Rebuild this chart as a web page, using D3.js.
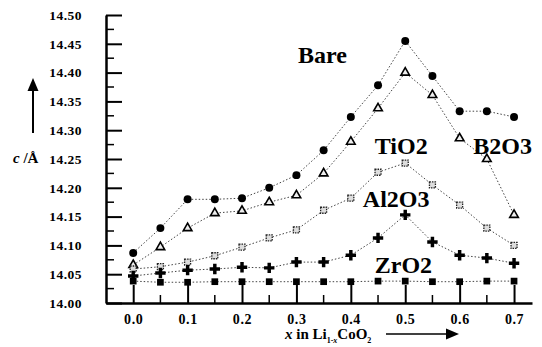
<!DOCTYPE html>
<html>
<head>
<meta charset="utf-8">
<script src="https://cdn.jsdelivr.net/npm/d3@7/dist/d3.min.js"></script>
<style>
  body { margin: 0; background: #fff; }
</style>
</head>
<body>
<svg id="chart" width="542" height="347"></svg>
<script>
// x in Li(1-x)CoO2
var xs = [0, 0.05, 0.1, 0.15, 0.2, 0.25, 0.3, 0.35, 0.4, 0.45, 0.5, 0.55, 0.6, 0.65, 0.7];

// c lattice parameter (Å)
var bare  = [14.087, 14.130, 14.180, 14.180, 14.182, 14.200, 14.222, 14.265, 14.323, 14.378, 14.455, 14.394, 14.333, 14.333, 14.323];
var b2o3  = [14.066, 14.097, 14.130, 14.156, 14.160, 14.175, 14.187, 14.225, 14.280, 14.338, 14.400, 14.361, 14.286, 14.250, 14.153];
var tio2  = [14.059, 14.063, 14.071, 14.082, 14.097, 14.113, 14.127, 14.161, 14.182, 14.227, 14.243, 14.205, 14.170, 14.130, 14.100];
var al2o3 = [14.047, 14.052, 14.057, 14.059, 14.062, 14.061, 14.071, 14.071, 14.083, 14.113, 14.153, 14.106, 14.083, 14.078, 14.069];
var zro2  = [14.038, 14.036, 14.036, 14.037, 14.037, 14.037, 14.037, 14.037, 14.037, 14.038, 14.038, 14.037, 14.037, 14.038, 14.038];

var yTicks = [14.00, 14.05, 14.10, 14.15, 14.20, 14.25, 14.30, 14.35, 14.40, 14.45, 14.50];
var xTicks = [0, 0.1, 0.2, 0.3, 0.4, 0.5, 0.6, 0.7];

var series = [
  {name: "Bare",  vals: bare,  sym: "circle"},
  {name: "B2O3",  vals: b2o3,  sym: "triangle"},
  {name: "TiO2",  vals: tio2,  sym: "square-open"},
  {name: "Al2O3", vals: al2o3, sym: "cross"},
  {name: "ZrO2",  vals: zro2,  sym: "square"}
];

// labels sit beside the curves
var labels = [
  {t: "Bare",  x: 0.303, y: 14.417},
  {t: "TiO2",  x: 0.444, y: 14.259},
  {t: "B2O3",  x: 0.625, y: 14.259},
  {t: "Al2O3", x: 0.422, y: 14.167},
  {t: "ZrO2",  x: 0.444, y: 14.052}
];

var FONT = "'Liberation Serif', 'Times New Roman', Times, 'DejaVu Serif', serif";

var svg = d3.select("#chart");
var x = d3.scaleLinear().domain([-0.05, 0.733]).range([106, 532]);
var y = d3.scaleLinear().domain([14.0, 14.5]).range([303, 15]);

// x axis
var gx = svg.append("g").attr("transform", "translate(0,303)");
gx.call(d3.axisBottom(x).tickValues(xTicks).tickSize(-18).tickSizeOuter(0)
  .tickPadding(11).tickFormat(d3.format(".1f")));
gx.selectAll(".tick line").attr("stroke-width", 2);
gx.selectAll("text").attr("fill", "#000")
  .style("font-family", FONT).style("font-weight", "bold").style("font-size", "14px")
  .style("letter-spacing", "0.6px");
gx.select(".domain").attr("stroke-width", 2.5);
gx.selectAll(".minor").data(d3.range(0.05, 0.75, 0.1)).enter().append("line")
  .attr("x1", function(d){ return x(d); }).attr("x2", function(d){ return x(d); })
  .attr("y1", 0).attr("y2", -8).attr("stroke", "#000").attr("stroke-width", 1.5);

// y axis
var gy = svg.append("g").attr("transform", "translate(106,0)");
gy.call(d3.axisLeft(y).tickValues(yTicks).tickSize(-16).tickSizeOuter(0)
  .tickPadding(24).tickFormat(d3.format(".2f")));
gy.selectAll(".tick line").attr("stroke-width", 2);
gy.selectAll("text").attr("fill", "#000")
  .style("font-family", FONT).style("font-weight", "bold").style("font-size", "13.5px")
  .style("letter-spacing", "0.5px");
gy.select(".domain").attr("stroke-width", 2.5);
gy.selectAll(".minor").data(d3.range(14.025, 14.5, 0.05)).enter().append("line")
  .attr("y1", function(d){ return y(d); }).attr("y2", function(d){ return y(d); })
  .attr("x1", 0).attr("x2", 8).attr("stroke", "#000").attr("stroke-width", 1.5);

// curves
var line = d3.line().x(function(d, i){ return x(xs[i]); }).y(function(d){ return y(d); });
series.forEach(function(s) {
  svg.append("path").datum(s.vals).attr("d", line)
    .attr("fill", "none").attr("stroke", "#444").attr("stroke-width", 1)
    .attr("stroke-dasharray", "1.5,2");

  var g = svg.append("g");
  var pts = g.selectAll("path").data(s.vals).enter().append("path")
    .attr("transform", function(d, i){ return "translate(" + x(xs[i]) + "," + y(d) + ")"; });
  if (s.sym == "circle") {
    pts.attr("d", d3.symbol(d3.symbolCircle, 50)).attr("fill", "#000");
  } else if (s.sym == "triangle") {
    pts.attr("d", d3.symbol(d3.symbolTriangle, 32)).attr("fill", "#eee")
      .attr("stroke", "#000").attr("stroke-width", 1.6);
  } else if (s.sym == "square-open") {
    pts.attr("d", d3.symbol(d3.symbolSquare, 36)).attr("fill", "#ddd")
      .attr("stroke", "#222").attr("stroke-width", 1.3).attr("stroke-dasharray", "1.5,1");
  } else if (s.sym == "cross") {
    pts.attr("d", d3.symbol(d3.symbolCross, 60)).attr("fill", "#000");
  } else {
    pts.attr("d", d3.symbol(d3.symbolSquare, 45)).attr("fill", "#000");
  }
});

// series labels
svg.selectAll(".lbl").data(labels).enter().append("text")
  .attr("x", function(d){ return x(d.x); }).attr("y", function(d){ return y(d.y); })
  .style("font-family", FONT).style("font-weight", "bold").style("font-size", "24px")
  .text(function(d){ return d.t; });

// y title + arrow
var yt = svg.append("text").attr("x", 13).attr("y", 163)
  .style("font-family", FONT).style("font-weight", "bold").style("font-size", "15px");
yt.append("tspan").style("font-style", "italic").text("c");
yt.append("tspan").text(" /Å");
svg.append("line").attr("x1", 33).attr("x2", 33).attr("y1", 133).attr("y2", 88)
  .attr("stroke", "#000").attr("stroke-width", 2);
svg.append("path").attr("d", "M33,78 L27.5,91 L38.5,91 Z").attr("fill", "#000");

// x title + arrow
var xt = svg.append("text").attr("x", 285).attr("y", 339)
  .style("font-family", FONT).style("font-weight", "bold").style("font-size", "15px");
xt.append("tspan").style("font-style", "italic").text("x");
xt.append("tspan").text(" in Li");
xt.append("tspan").attr("dy", 4).style("font-size", "8px").text("1-");
xt.append("tspan").style("font-size", "8px").style("font-style", "italic").text("x");
xt.append("tspan").attr("dy", -4).text("CoO");
xt.append("tspan").attr("dy", 4).style("font-size", "8px").text("2");
svg.append("line").attr("x1", 386).attr("x2", 448).attr("y1", 334).attr("y2", 334)
  .attr("stroke", "#000").attr("stroke-width", 1.5);
svg.append("path").attr("d", "M459,334 L446,328.5 L446,339.5 Z").attr("fill", "#000");
</script>
</body>
</html>
